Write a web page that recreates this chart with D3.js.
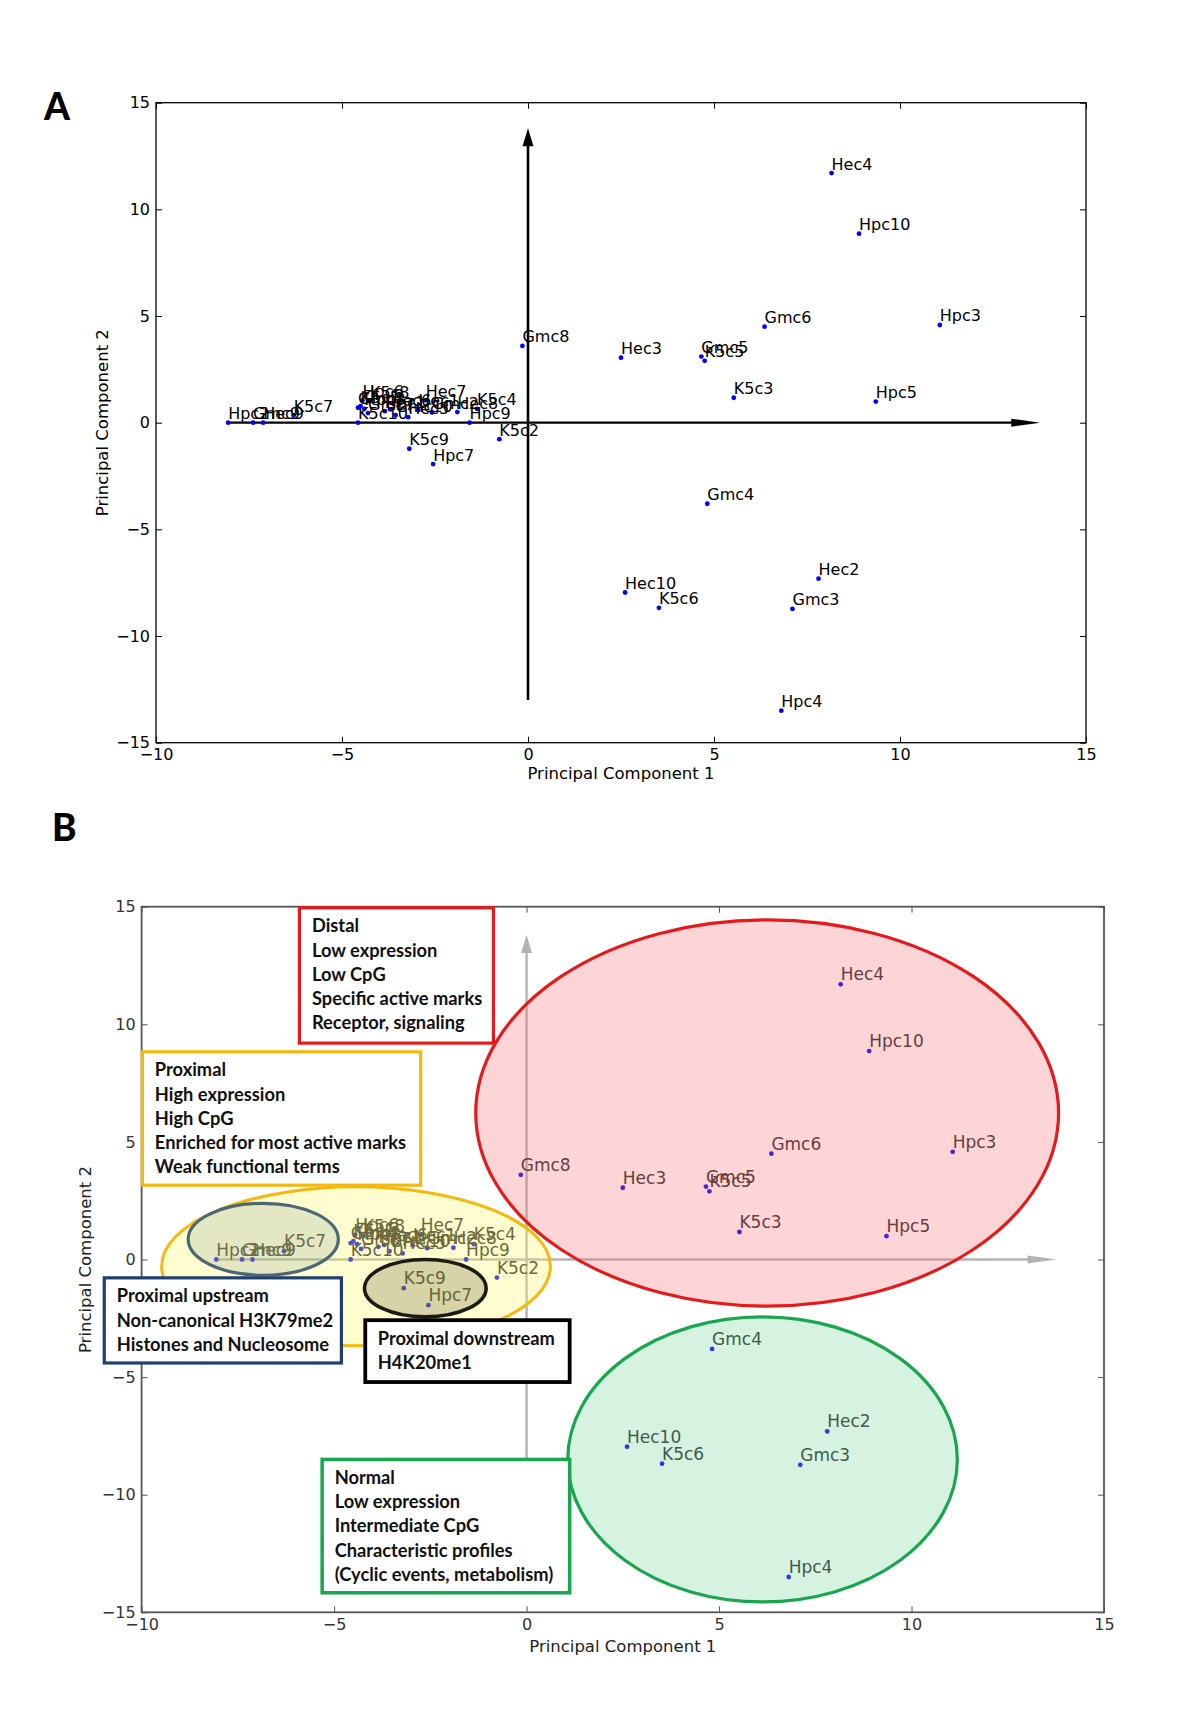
<!DOCTYPE html>
<html><head><meta charset="utf-8">
<script src="https://cdn.jsdelivr.net/npm/d3@7"></script>
<style>body{margin:0;background:#fff} svg{display:block}</style>
</head><body>
<svg id="chart" width="1200" height="1734"></svg>
<script>
// ---------- data ----------
const labels = ["Hec4","Hpc10","Gmc6","Hpc3","Gmc8","Hec3","Gmc5","K5c5","K5c3","Hpc5",
  "Gmc4","Hec10","K5c6","Hec2","Gmc3","Hpc4","K5c9","Hpc7","K5c2","Hpc2",
  "Gmc9","Hec9","K5c7","Hpc6","K5c8","Gmc1","K5c1","Hpc8","Gmc7","Hpc1",
  "Hec6","Gmc10","Hec5","Hec1","Hec7","Gmc2","Hec8","K5c10","K5c4","Hpc9"];
const pc1 = [8.16,8.9,6.36,11.07,-0.15,2.5,4.66,4.75,5.53,9.35,
  4.82,2.61,3.52,7.81,7.11,6.81,-3.19,-2.55,-0.77,-8.06,
  -7.39,-7.12,-6.3,-4.45,-4.25,-4.57,-4.5,-4.4,-4.3,-3.85,
  -3.7,-3.56,-3.22,-2.95,-2.75,-2.58,-1.9,-4.57,-1.37,-1.57];
const pc2 = [11.7,8.86,4.5,4.58,3.6,3.05,3.1,2.9,1.17,0.99,
  -3.8,-7.96,-8.68,-7.31,-8.73,-13.5,-1.22,-1.94,-0.77,0,
  0,0,0.35,1.05,1.0,0.7,0.78,0.65,0.45,0.54,
  0.62,0.35,0.26,0.6,1.05,0.48,0.5,0,0.65,0];

const xTickValues = [-10,-5,0,5,10,15];
const xTickLabels = ["\u221210","\u22125","0","5","10","15"];
const yTickValues = [-15,-10,-5,0,5,10,15];
const yTickLabels = ["\u221215","\u221210","\u22125","0","5","10","15"];
const xTitle = "Principal Component 1";
const yTitle = "Principal Component 2";

// cluster regions (PC units): centre and half-axes
const regionNames = ["Distal","Normal","Proximal","Proximal upstream","Proximal downstream"];
const regionCx = [6.25, 6.13, -4.43, -6.84, -2.63];
const regionCy = [6.23, -8.5, -0.29, 0.86, -1.22];
const regionRx = [7.57, 5.06, 5.05, 1.95, 1.58];
const regionRy = [8.21, 6.06, 3.38, 1.53, 1.22];

// annotation texts
const distalLines = ["Distal","Low expression","Low CpG","Specific active marks","Receptor, signaling"];
const proximalLines = ["Proximal","High expression","High CpG","Enriched for most active marks","Weak functional terms"];
const upstreamLines = ["Proximal upstream","Non-canonical H3K79me2","Histones and Nucleosome"];
const downstreamLines = ["Proximal downstream","H4K20me1"];
const normalLines = ["Normal","Low expression","Intermediate CpG","Characteristic profiles","(Cyclic events, metabolism)"];

// ---------- drawing ----------
const svg = d3.select("#chart");
const points = labels.map((l,i)=>({name:l, x:pc1[i], y:pc2[i]}));
const FONT = "'DejaVu Sans', sans-serif";

function drawAxes(g, x, y, frameColor, textColor, frameW){
  const [x0,x1] = x.range(), [y0,y1] = y.range(); // y0 bottom
  const fmtX = (d)=>xTickLabels[xTickValues.indexOf(d)];
  const fmtY = (d)=>yTickLabels[yTickValues.indexOf(d)];
  const ax = [
    [d3.axisBottom(x).tickValues(xTickValues).tickFormat(fmtX), `translate(0,${y0})`],
    [d3.axisTop(x).tickValues(xTickValues).tickFormat(()=>""), `translate(0,${y1})`],
    [d3.axisLeft(y).tickValues(yTickValues).tickFormat(fmtY), `translate(${x0},0)`],
    [d3.axisRight(y).tickValues(yTickValues).tickFormat(()=>""), `translate(${x1},0)`]
  ];
  ax.forEach(([a,t])=>{
    const s = g.append("g").attr("transform",t)
      .call(a.tickSizeInner(-6).tickSizeOuter(0).tickPadding(6));
    s.select(".domain").remove();
    s.selectAll("line").attr("stroke",frameColor).attr("stroke-width",1);
    s.selectAll("text").attr("font-family",FONT).attr("font-size",16).attr("fill",textColor);
  });
  g.append("rect").attr("x",x0).attr("y",y1).attr("width",x1-x0).attr("height",y0-y1)
    .attr("fill","none").attr("stroke",frameColor).attr("stroke-width",frameW);
}

function drawArrows(g, x, y, color, vw, hw){
  const hx0 = x(-8.06), hx1 = x(13.77), hy = y(0);
  g.append("line").attr("x1",hx0).attr("x2",hx1-20).attr("y1",hy).attr("y2",hy)
    .attr("stroke",color).attr("stroke-width",hw);
  g.append("path").attr("d",`M${hx1},${hy} L${hx1-29},${hy-4} L${hx1-29},${hy+4} Z`).attr("fill",color);
  const vx = x(0), vy0 = y(-13), vy1 = y(13.8);
  g.append("line").attr("x1",vx).attr("x2",vx).attr("y1",vy0).attr("y2",vy1+12)
    .attr("stroke",color).attr("stroke-width",vw);
  g.append("path").attr("d",`M${vx},${vy1} L${vx-5.5},${vy1+18} L${vx+5.5},${vy1+18} Z`).attr("fill",color);
}

function drawPoints(g, x, y, labelColor, fs, lift){
  g.selectAll("circle.pt").data(points).join("circle").attr("class","pt")
    .attr("cx",d=>x(d.x)).attr("cy",d=>y(d.y)).attr("r",2.4).attr("fill","#0000ff");
  g.selectAll("text.lbl").data(points).join("text").attr("class","lbl")
    .attr("x",d=>x(d.x)).attr("y",d=>y(d.y)-lift)
    .attr("font-family",FONT).attr("font-size",fs).attr("fill",labelColor)
    .text(d=>d.name);
}

// ---------- Panel A ----------
const xA = d3.scaleLinear().domain([-10,15]).range([156,1086]);
const yA = d3.scaleLinear().domain([-15,15]).range([742.7,102.7]);
const gA = svg.append("g");
drawAxes(gA, xA, yA, "#000", "#000", 1.3);
drawArrows(gA, xA, yA, "#000", 2.6, 2.2);
drawPoints(gA, xA, yA, "#000", 16, 3.5);
gA.append("text").attr("x",(xA.range()[0]+xA.range()[1])/2).attr("y",779)
  .attr("text-anchor","middle").attr("font-family",FONT).attr("font-size",16.5).text(xTitle);
gA.append("text").attr("transform",`translate(108,${yA(0)}) rotate(-90)`)
  .attr("text-anchor","middle").attr("font-family",FONT).attr("font-size",16.5).text(yTitle);
svg.append("text").attr("x",44).attr("y",120).attr("font-family","Lato, sans-serif")
  .attr("font-weight",900).attr("font-size",37).text("A");

// ---------- Panel B ----------
const xB = d3.scaleLinear().domain([-10,15]).range([141.6,1104]);
const yB = d3.scaleLinear().domain([-15,15]).range([1612.3,906.7]);
const gB = svg.append("g");
drawAxes(gB, xB, yB, "#555", "#333", 1.8);
drawArrows(gB, xB, yB, "#b3b3b3", 2.4, 2.4);
drawPoints(gB, xB, yB, "#262626", 17, 4);
gB.append("text").attr("x",(xB.range()[0]+xB.range()[1])/2).attr("y",1652)
  .attr("text-anchor","middle").attr("font-family",FONT).attr("font-size",16.5).attr("fill","#222").text(xTitle);
gB.append("text").attr("transform",`translate(91,${yB(0)}) rotate(-90)`)
  .attr("text-anchor","middle").attr("font-family",FONT).attr("font-size",16.5).attr("fill","#222").text(yTitle);
svg.append("text").attr("x",52).attr("y",841).attr("font-family","Lato, sans-serif")
  .attr("font-weight",900).attr("font-size",37).text("B");

// ellipses (semi transparent fills drawn over the scatter)
const ellStyle = [
  {fill:"rgb(248,115,118)", op:0.3, stroke:"#e41a1c", sw:3.2},
  {fill:"rgb(118,212,152)", op:0.3, stroke:"#1aa64f", sw:3.2},
  {fill:"rgb(255,248,105)", op:0.32, stroke:"#f5b80f", sw:3},
  {fill:"rgb(95,125,135)", op:0.17, stroke:"#4b6873", sw:3.2},
  {fill:"rgb(80,80,40)", op:0.24, stroke:"#1c1c14", sw:3.6}
];
const drawOrder = [2,3,4,0,1];
drawOrder.forEach(i=>{
  const st = ellStyle[i];
  gB.append("ellipse")
    .attr("cx",xB(regionCx[i])).attr("cy",yB(regionCy[i]))
    .attr("rx",xB(regionCx[i]+regionRx[i])-xB(regionCx[i]))
    .attr("ry",yB(regionCy[i]-regionRy[i])-yB(regionCy[i]))
    .attr("fill",st.fill).attr("fill-opacity",st.op)
    .attr("stroke",st.stroke).attr("stroke-width",st.sw);
});

// annotation boxes: [lines, left, top, right, bottom] in PC units
const boxes = [
  {lines:distalLines, x0:-5.9, y0:14.95, x1:-0.86, y1:9.2, stroke:"#e41a1c", sw:3.2},
  {lines:proximalLines, x0:-9.98, y0:8.83, x1:-2.75, y1:3.16, stroke:"#f5b80f", sw:3.2},
  {lines:upstreamLines, x0:-10.97, y0:-0.78, x1:-4.81, y1:-4.4, stroke:"#1f3f6e", sw:3.2},
  {lines:downstreamLines, x0:-4.19, y0:-2.58, x1:1.12, y1:-5.21, stroke:"#000", sw:3.8},
  {lines:normalLines, x0:-5.31, y0:-8.5, x1:1.12, y1:-14.17, stroke:"#1aa64f", sw:3.5}
];
boxes.forEach(b=>{
  const L = xB(b.x0), T = yB(b.y0), R = xB(b.x1), Bt = yB(b.y1);
  gB.append("rect").attr("x",L).attr("y",T).attr("width",R-L).attr("height",Bt-T)
    .attr("fill","#fff").attr("stroke",b.stroke).attr("stroke-width",b.sw);
  gB.append("g").selectAll("text").data(b.lines).join("text")
    .attr("x",L+12.5).attr("y",(d,i)=>T+24.5+i*24.2)
    .attr("font-family","Lato, sans-serif").attr("font-weight",700).attr("font-size",18.3)
    .attr("fill","#111").text(d=>d);
});
</script>
</body></html>
